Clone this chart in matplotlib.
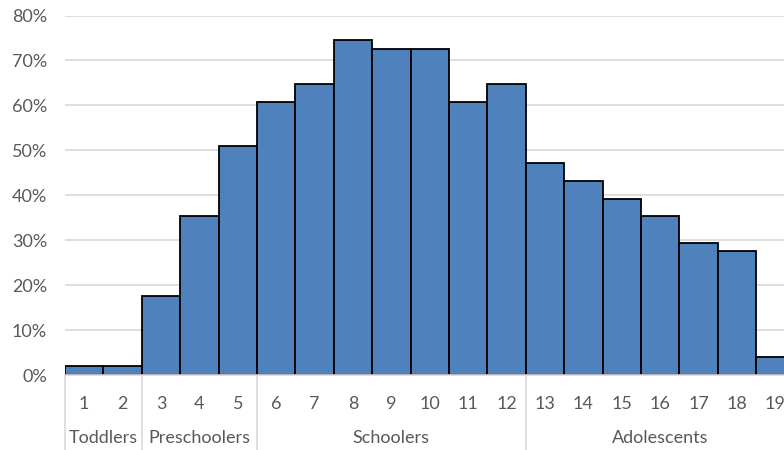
import matplotlib
matplotlib.use("Agg")
import matplotlib.pyplot as plt
import numpy as np

ages = [str(i) for i in range(1, 20)]
values = [2.0, 2.0, 17.6, 35.3, 51.0, 60.8, 64.7, 74.5, 72.5, 72.5,
          60.8, 64.7, 47.1, 43.1, 39.2, 35.3, 29.4, 27.5, 3.9]
groups = ["Toddlers", "Preschoolers", "Schoolers", "Adolescents"]
group_sizes = [2, 3, 7, 7]
yticks = [0, 10, 20, 30, 40, 50, 60, 70, 80]

plt.rcParams['font.family'] = ['Lato', 'DejaVu Sans']
W, H = 784, 450
fig = plt.figure(figsize=(W/100, H/100), dpi=100)
left, right = 65, 65 + 19*38.4
bottom, top = 375, 15.5
ax = fig.add_axes([left/W, (H-bottom)/H, (right-left)/W, (bottom-top)/H])

FS = 13
x = np.arange(len(values))
ax.bar(x, values, width=1.0, color="#4F81BD", edgecolor="black", linewidth=1.3, zorder=3)
ax.set_xlim(-0.5, len(values)-0.5)
ax.set_ylim(0, 80)
ax.set_yticks(yticks)
ax.set_yticklabels([f"{v}%" for v in yticks], fontsize=FS, color="#595959")
ax.yaxis.grid(True, color="#d9d9d9", linewidth=1.2, zorder=0)
ax.tick_params(axis='y', length=0, pad=13)
for s in ["top", "right", "left"]:
    ax.spines[s].set_visible(False)
ax.spines["bottom"].set_color("#d9d9d9")
ax.spines["bottom"].set_linewidth(1.2)
ax.spines["bottom"].set_zorder(4)
ax.set_xticks(x)
ax.set_xticklabels(ages, fontsize=FS, color="#595959")
ax.tick_params(axis='x', length=0, pad=15)

# group labels and separators
trans = ax.get_xaxis_transform()
axh = bottom - top
sep_y = -(H - bottom) / axh
lab_y = -(438 - bottom) / axh
start = 0
bounds = [-0.5]
for g, n in zip(groups, group_sizes):
    c = start + n/2 - 0.5
    ax.text(c, lab_y, g, transform=trans, ha="center", va="center",
            fontsize=FS, color="#595959")
    start += n
    bounds.append(start - 0.5)
for b in bounds[:-1]:
    ax.plot([b, b], [0, sep_y], transform=trans, color="#d9d9d9",
            linewidth=1.2, clip_on=False)

fig.savefig("out.png", dpi=100)
